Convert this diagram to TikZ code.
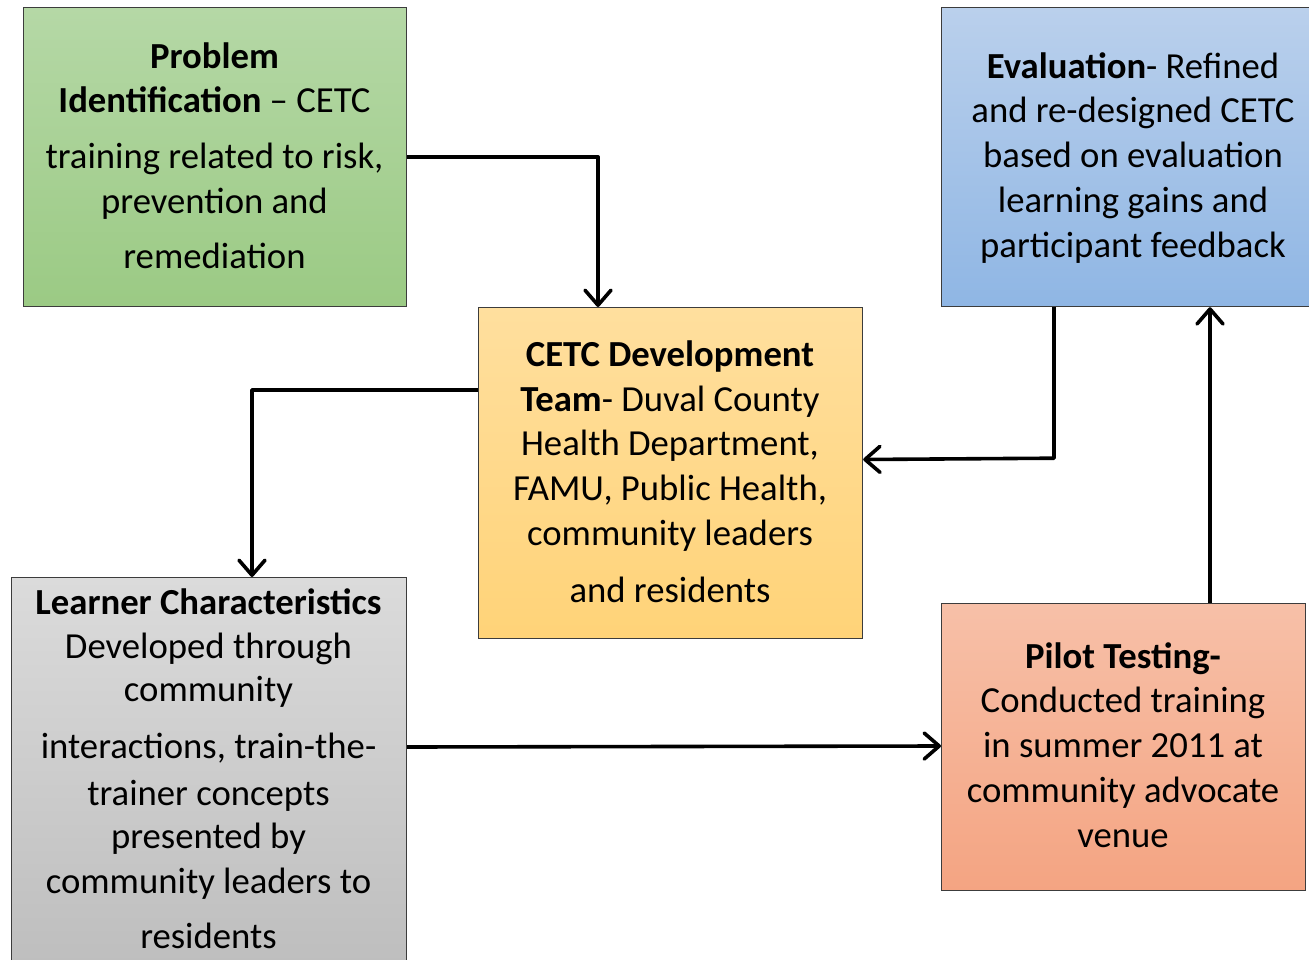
\documentclass[tikz,border=0pt]{standalone}
\usepackage{fontspec}
\setmainfont{Carlito}
\usetikzlibrary{arrows.meta}

\definecolor{boxline}{RGB}{60,60,60}
\definecolor{greenTop}{RGB}{181,216,166}
\definecolor{greenBot}{RGB}{155,202,132}
\definecolor{blueTop}{RGB}{186,208,236}
\definecolor{blueBot}{RGB}{143,182,228}
\definecolor{orangeTop}{RGB}{255,223,158}
\definecolor{orangeBot}{RGB}{255,211,120}
\definecolor{grayTop}{RGB}{219,219,219}
\definecolor{grayBot}{RGB}{188,188,188}
\definecolor{salmonTop}{RGB}{247,192,168}
\definecolor{salmonBot}{RGB}{244,164,130}

\begin{document}
\begin{tikzpicture}[x=1pt,y=-1pt,
  stage/.style={rectangle, draw=boxline, line width=1.2pt, inner sep=0pt, anchor=north west},
  % multi-line texts are placed by the baseline of their last line
  boxtext/.style={anchor=base, align=center, inner sep=0pt,
    font=\fontsize{36.7pt}{44.7pt}\selectfont},
  flow/.style={draw, line width=3.6pt, line join=round,
    -{Straight Barb[length=15pt,width=26pt,line cap=round,line join=round]}}
]
\clip (0,0) rectangle (1309,960);
\fill[white] (0,0) rectangle (1309,960);

% stage boxes
\node[stage, top color=greenTop, bottom color=greenBot,
  minimum width=383pt, minimum height=299pt] (prob) at (23,7) {};
\node[stage, top color=blueTop, bottom color=blueBot,
  minimum width=384pt, minimum height=299pt] (eval) at (941,7) {};
\node[stage, top color=orangeTop, bottom color=orangeBot,
  minimum width=384pt, minimum height=331pt] (dev) at (478,307) {};
\node[stage, top color=grayTop, bottom color=grayBot,
  minimum width=395pt, minimum height=413pt] (learn) at (11,577) {};
\node[stage, top color=salmonTop, bottom color=salmonBot,
  minimum width=364pt, minimum height=287pt] (pilot) at (941,603) {};

% box texts
\node[boxtext] (probtxt) at (214.5,269)
  {\textbf{Problem}\\ \textbf{Identification} -- CETC\\[11pt]
   training related to risk,\\ prevention and\\[11pt] remediation};
\node[boxtext] (evaltxt) at (1133,257)
  {\textbf{Evaluation}- Refined\\ and re-designed CETC\\ based on evaluation\\
   learning gains and\\ participant feedback};
\node[boxtext] (devtxt) at (670,602)
  {\textbf{CETC Development}\\ \textbf{Team}- Duval County\\ Health Department,\\
   FAMU, Public Health,\\ community leaders\\[12pt] and residents};
\node[boxtext] (learntxt) at (208.5,948)
  {\textbf{Learner Characteristics}\\ Developed through\\[-2pt] community\\[12pt]
   interactions, train-the-\\[3pt] trainer concepts\\[-2pt] presented by\\
   community leaders to\\[10pt] residents};
\node[boxtext] (pilottxt) at (1123,847)
  {\textbf{Pilot Testing-}\\ Conducted training\\ in summer 2011 at\\
   community advocate\\ venue};

% connectors
\draw[flow] (prob.east) -| ([xshift=120pt]dev.north west);
\draw[flow] ([yshift=-83pt]dev.north west) -| ([xshift=241pt]learn.north west);
\draw[flow] ([xshift=113pt]eval.south west) -- ++(0,151) -- ([yshift=-152.5pt]dev.north east);
\draw[flow] ([yshift=-170pt]learn.north east) -- ([yshift=-143pt]pilot.north west);
\draw[flow] ([xshift=269pt]pilot.north west) -- ([xshift=269pt]eval.south west);
\end{tikzpicture}
\end{document}
